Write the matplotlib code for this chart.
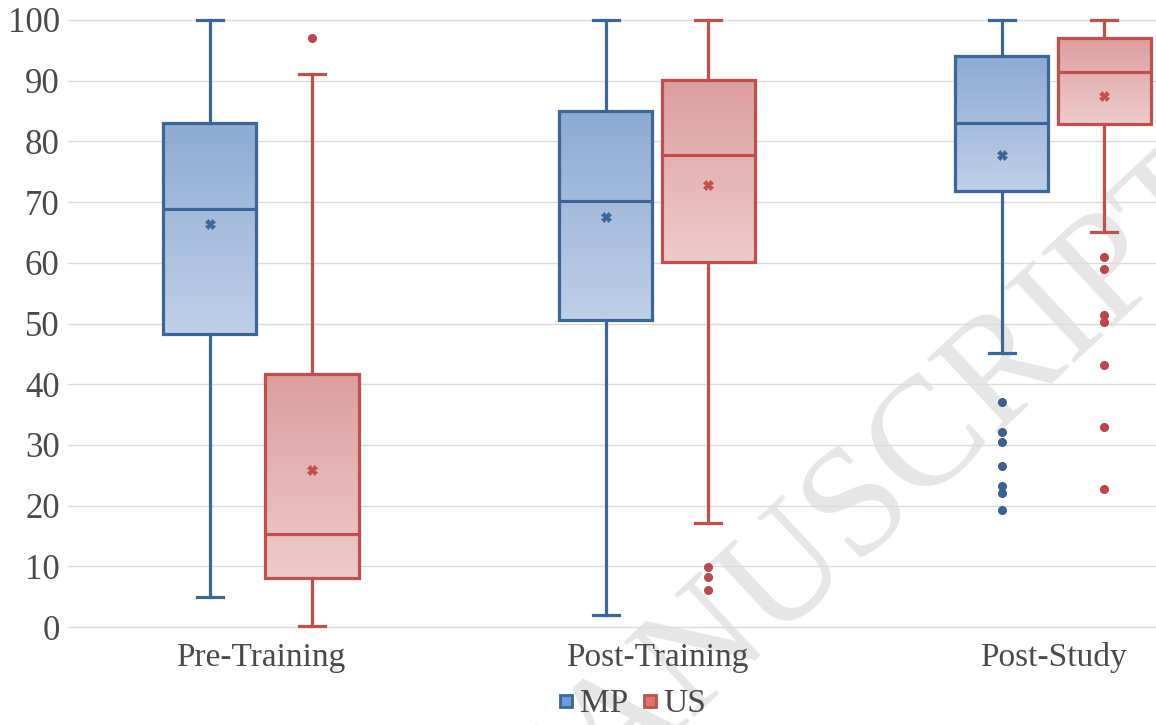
import numpy as np
import matplotlib
matplotlib.use("Agg")
import matplotlib.pyplot as plt
from matplotlib.colors import LinearSegmentedColormap
from matplotlib.lines import Line2D

# === 1. Values ===
categories = ['Pre-Training', 'Post-Training', 'Post-Study']

mp_lo = [5, 2, 45.1]
mp_q1 = [48.3, 50.6, 71.9]
mp_med = [68.8, 70.2, 83.0]
mp_q3 = [83.1, 85.0, 94.0]
mp_hi = [100, 100, 100]
mp_mean = [66.4, 67.6, 77.8]
mp_out = [[], [], [37.1, 32.2, 30.4, 26.5, 23.2, 22.1, 19.3]]

us_lo = [0.2, 17.1, 65.1]
us_q1 = [8.0, 60.1, 82.8]
us_med = [15.3, 77.8, 91.4]
us_q3 = [41.7, 90.1, 97.0]
us_hi = [91.1, 100, 100]
us_mean = [25.8, 72.8, 87.5]
us_out = [[97.1], [9.9, 8.2, 6.1], [61.0, 58.9, 51.4, 50.3, 43.2, 33.0, 22.7]]

series = ['MP', 'US']

# === 2. Styles ===
serif = ['Liberation Serif', 'DejaVu Serif']
text_col = '#4a4a4a'
edge = {'MP': '#3d6698', 'US': '#c0504d'}
dots = {'MP': '#3e5f8a', 'US': '#b8474f'}
grad = {'MP': ('#8eaad3', '#bfd0e8'), 'US': ('#dc9e9f', '#eecbcb')}
leg_fill = {'MP': '#6d9be0', 'US': '#e07272'}

offset = 0.129
box_w = 0.235
cap_w = 0.066


def make_stats(lo, q1, med, q3, hi, mean, out):
    return [dict(whislo=lo[i], q1=q1[i], med=med[i], q3=q3[i], whishi=hi[i],
                 mean=mean[i], fliers=out[i], label='') for i in range(len(lo))]


stats = {
    'MP': make_stats(mp_lo, mp_q1, mp_med, mp_q3, mp_hi, mp_mean, mp_out),
    'US': make_stats(us_lo, us_q1, us_med, us_q3, us_hi, us_mean, us_out),
}

fig = plt.figure(figsize=(11.56, 7.25), dpi=100)
ax = fig.add_axes([68 / 1156, 98 / 725, 1 - 68 / 1156, 607 / 725])
ax.set_facecolor('white')

x = np.arange(len(categories))
for k, name in enumerate(series):
    pos = x + (-offset if name == 'MP' else offset)
    c = edge[name]
    bp = ax.bxp(stats[name], positions=pos, widths=box_w, patch_artist=True,
                showmeans=True, capwidths=cap_w,
                boxprops=dict(facecolor='none', edgecolor=c, linewidth=2.3),
                medianprops=dict(color=c, linewidth=2.3),
                whiskerprops=dict(color=c, linewidth=2.3),
                capprops=dict(color=c, linewidth=2.3),
                meanprops=dict(marker='X', markerfacecolor=c, markeredgecolor=c,
                               markersize=7, markeredgewidth=0.5),
                flierprops=dict(marker='o', markerfacecolor=dots[name],
                                markeredgecolor=dots[name], markersize=5.5))
    cmap = LinearSegmentedColormap.from_list(name, [grad[name][0], grad[name][1]])
    for i, patch in enumerate(bp['boxes']):
        patch.set_zorder(3)
        g = np.linspace(0, 1, 256).reshape(-1, 1)
        im = ax.imshow(g, cmap=cmap, aspect='auto', origin='upper',
                       extent=[pos[i] - box_w / 2, pos[i] + box_w / 2,
                               stats[name][i]['q1'], stats[name][i]['q3']],
                       zorder=2, interpolation='bicubic')
        im.set_clip_path(patch)
    for key in ['whiskers', 'caps', 'medians', 'means', 'fliers']:
        for a in bp[key]:
            a.set_clip_on(False)
            a.set_zorder(4)

ax.set_xlim(-0.487, 2.26)
ax.set_ylim(0, 100)
ax.set_yticks(np.arange(0, 101, 10))
ax.set_xticks(x)
ax.set_xticklabels(categories)
ax.yaxis.grid(True, color='#dcdcdc', linewidth=1.0)
for gl in ax.get_ygridlines():
    gl.set_clip_on(False)
ax.set_axisbelow(True)
for s in ax.spines.values():
    s.set_visible(False)
ax.tick_params(length=0, labelsize=25, labelcolor=text_col)
ax.tick_params(axis='x', labelsize=24, pad=11)
ax.tick_params(axis='y', pad=6)
for lab in ax.get_xticklabels() + ax.get_yticklabels():
    lab.set_family(serif)

# watermark left on the scanned page
ax.text(848 / 1156, 1 - 518 / 725, 'MANUSCRIPT', transform=fig.transFigure,
        rotation=43, rotation_mode='anchor', ha='center', va='center',
        fontsize=112, family=serif, color='#e6e6e6', zorder=0.1, clip_on=False)

handles = [Line2D([], [], linestyle='none', marker='s', markersize=8,
                  markerfacecolor=leg_fill[n], markeredgecolor=edge[n],
                  markeredgewidth=2) for n in series]
fig.legend(handles, series, loc='center', bbox_to_anchor=(632 / 1156, 21 / 725),
           ncol=2, frameon=False, handlelength=0.5, handletextpad=0.15,
           columnspacing=0.4, prop={'family': serif, 'size': 24},
           labelcolor=text_col)

fig.savefig('out.png', dpi=100)
